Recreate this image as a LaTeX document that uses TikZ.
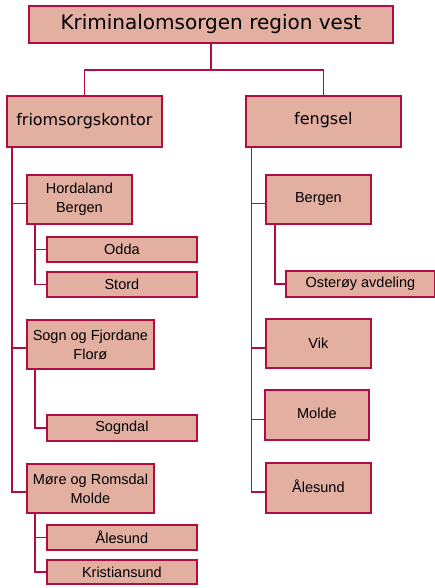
\documentclass[tikz,border=0pt]{standalone}
\usepackage{fontspec}
\setmainfont{Liberation Sans}
\newfontfamily\djv{DejaVu Sans}
\definecolor{boxfill}{RGB}{226,175,161}
\definecolor{boxline}{RGB}{176,14,62}
\tikzset{
  orgbox/.style={draw=boxline, fill=boxfill, line width=1.8pt, inner sep=0pt, align=center, anchor=north west, font=\fontsize{14.5}{19}\selectfont},
  conn/.style={draw=boxline, line width=1.7pt},
}
\newcommand\orgnode[6]{\node[orgbox, minimum width={(#4-#2)*1pt}, minimum height={(#5-#3)*1pt}] (#1) at (#2,#3) {#6};}
\begin{document}
\begin{tikzpicture}[x=1pt,y=-1pt]
\useasboundingbox (0,0) rectangle (435,588);
\orgnode{top}{28}{5}{392}{42}{\djv\fontsize{20}{24}\selectfont Kriminalomsorgen region vest}
\orgnode{friom}{6}{95}{161}{146}{\raisebox{4.5pt}{\djv\fontsize{16}{20}\selectfont friomsorgskontor}}
\orgnode{feng}{245}{95}{400}{146}{\raisebox{5pt}{\djv\fontsize{16}{20}\selectfont fengsel}}
\orgnode{hord}{26}{174}{131}{223}{Hordaland\\Bergen}
\orgnode{odda}{46}{236}{196}{261}{Odda}
\orgnode{stord}{46}{271}{196}{296}{Stord}
\orgnode{sogn}{26}{319}{153}{368}{Sogn og Fjordane\\Florø}
\orgnode{sogndal}{46}{414}{196}{440}{Sogndal}
\orgnode{more}{26}{463}{153}{512}{Møre og Romsdal\\Molde}
\orgnode{aala}{46}{524}{196}{549}{Ålesund}
\orgnode{krist}{46}{559}{196}{583}{Kristiansund}
\orgnode{bergen}{265}{174}{370}{223}{\raisebox{3.5pt}{Bergen}}
\orgnode{oster}{285}{270}{434}{296}{Osterøy avdeling}
\orgnode{vik}{265}{318}{370}{367}{Vik}
\orgnode{molde}{264}{389}{368}{439}{\raisebox{4pt}{Molde}}
\orgnode{aalb}{265}{462}{370}{512}{\raisebox{4pt}{Ålesund}}
% top level
\draw[conn] (top.south) -- ++(0,26) coordinate (mid) -| (friom.north);
\draw[conn] (mid) -| (feng.north);
% left trunk
\foreach \c/\s in {hord/-4, sogn/-3.5, more/-3.5}
  \draw[conn] ([xshift=6pt]friom.south west) |- ([yshift=\s pt]\c.west);
\foreach \c in {odda, stord}
  \draw[conn] ([xshift=9pt]hord.south west) |- (\c.west);
\draw[conn] ([xshift=9pt]sogn.south west) |- (sogndal.west);
\foreach \c in {aala, krist}
  \draw[conn] ([xshift=9pt]more.south west) |- (\c.west);
% right trunk
\foreach \c/\s in {bergen/-4, vik/-4.5, molde/-4.5, aalb/-4}
  \draw[conn] ([xshift=6.5pt]feng.south west) |- ([yshift=\s pt]\c.west);
\draw[conn] ([xshift=10pt]bergen.south west) |- (oster.west);
\end{tikzpicture}
\end{document}
